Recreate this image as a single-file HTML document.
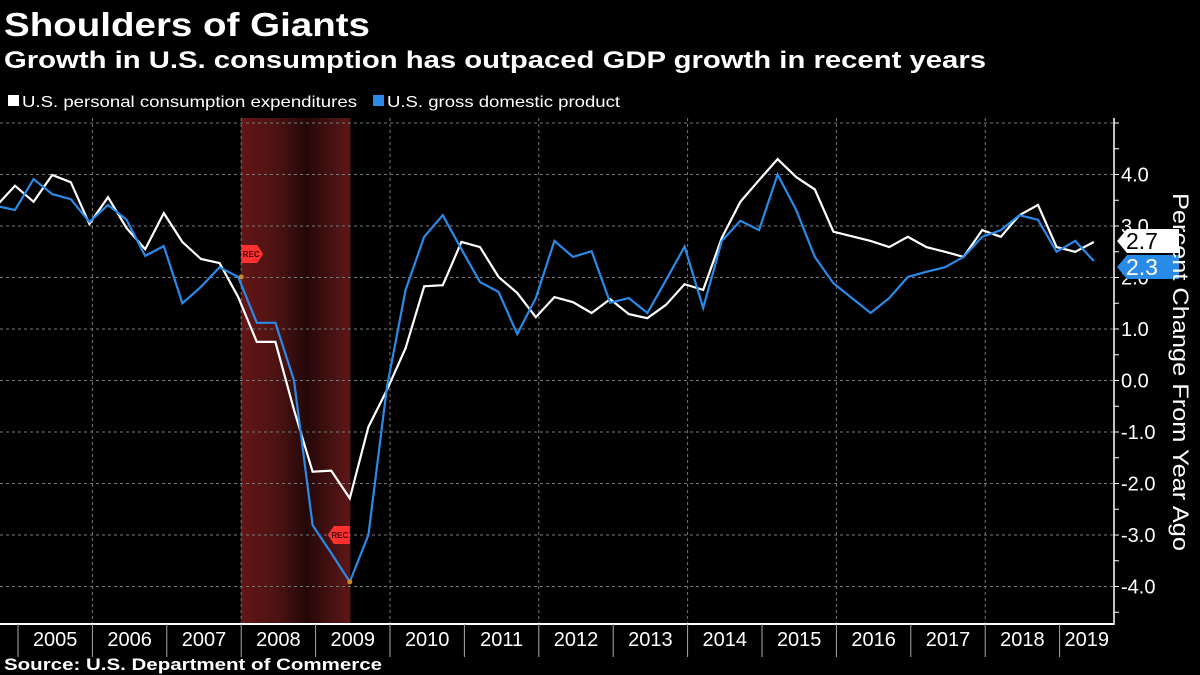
<!DOCTYPE html>
<html><head><meta charset="utf-8">
<style>
html,body{margin:0;padding:0;background:#000;}
svg{display:block;font-family:"Liberation Sans",sans-serif;}
</style></head>
<body>
<svg id="chart" width="1200" height="675" viewBox="0 0 1200 675" xmlns="http://www.w3.org/2000/svg">
<defs>
<linearGradient id="recg" x1="0" x2="1" y1="0" y2="0">
<stop offset="0" stop-color="#641616"/>
<stop offset="0.35" stop-color="#4a1212"/>
<stop offset="0.6" stop-color="#240808"/>
<stop offset="0.85" stop-color="#4a1212"/>
<stop offset="1" stop-color="#5e1616"/>
</linearGradient>
</defs>
<rect x="0" y="0" width="1200" height="675" fill="#000"/>
<text x="4" y="36" fill="#fff" font-size="33" font-weight="bold" textLength="366" lengthAdjust="spacingAndGlyphs">Shoulders of Giants</text>
<text x="4" y="68" fill="#fff" font-size="24" font-weight="bold" textLength="982" lengthAdjust="spacingAndGlyphs">Growth in U.S. consumption has outpaced GDP growth in recent years</text>
<g>
<g>
<rect x="8" y="95" width="11" height="11" fill="#fff"/>
<text x="22" y="107" fill="#fff" font-size="16" textLength="335" lengthAdjust="spacingAndGlyphs">U.S. personal consumption expenditures</text>
</g>
<g>
<rect x="373" y="95" width="11" height="11" fill="#2a8ae8"/>
<text x="387" y="107" fill="#fff" font-size="16" textLength="233" lengthAdjust="spacingAndGlyphs">U.S. gross domestic product</text>
</g>
</g>
<g id="plot"></g>
<text x="4" y="670" fill="#fff" font-size="17" font-weight="bold" textLength="378" lengthAdjust="spacingAndGlyphs">Source: U.S. Department of Commerce</text>
<text transform="translate(1173,372) rotate(90)" text-anchor="middle" fill="#fff" font-size="22" textLength="358" lengthAdjust="spacingAndGlyphs">Percent Change From Year Ago</text>
</svg>
<script>
const pceValues = [3.39,3.78,3.47,3.99,3.85,3.04,3.56,2.96,2.55,3.25,2.69,2.36,2.28,1.62,
0.75,0.75,-0.57,-1.77,-1.75,-2.29,-0.90,-0.18,0.63,1.83,1.85,2.69,2.59,2.01,1.70,
1.23,1.62,1.52,1.31,1.58,1.29,1.21,1.47,1.87,1.76,2.77,3.47,3.89,
4.30,3.95,3.71,2.89,2.80,2.71,2.59,2.79,2.59,2.50,2.40,2.92,2.79,3.21,3.41,2.59,2.50,2.69];
const gdpValues = [3.39,3.31,3.91,3.62,3.52,3.08,3.41,3.12,2.42,2.61,1.50,1.82,2.20,2.01,
1.12,1.12,0.00,-2.81,-3.35,-3.91,-3.00,-0.12,1.76,2.79,3.21,2.55,1.91,1.72,0.90,
1.60,2.71,2.40,2.51,1.51,1.60,1.31,1.95,2.60,1.41,2.71,3.10,2.92,
4.00,3.31,2.40,1.89,1.60,1.31,1.60,2.01,2.11,2.20,2.40,2.79,2.92,3.21,3.12,2.50,2.71,2.32];
const yearLabels = ["2005","2006","2007","2008","2009","2010","2011","2012","2013","2014","2015","2016","2017","2018","2019"];
const yTickValues = [4,3,2,1,0,-1,-2,-3,-4];
const yTickLabels = ["4.0","3.0","2.0","1.0","0.0","-1.0","-2.0","-3.0","-4.0"];
const recessionQuarters = [12, 18];
const lastLabels = ["2.7","2.3"];

const NS="http://www.w3.org/2000/svg";
const plotG=document.getElementById('plot');
const pLeft=0, pRight=1114, pTop=118, pBottom=624;
const yearStart=18, yearW=74.4;
function yScale(v){return 380.5 - v*51.5;}
function xQ(q){return 15 + q*18.6;}
function xYear(i){return yearStart + i*yearW;}
function mk(tag,attrs){const e=document.createElementNS(NS,tag);for(const k in attrs)e.setAttribute(k,attrs[k]);plotG.appendChild(e);return e;}

const band=mk('rect',{x:xYear(3),y:pTop,width:xQ(recessionQuarters[1])+0.5-xYear(3),height:pBottom-pTop,fill:'url(#recg)'});



for(let v=-4;v<=5;v++){
  const g=mk('line',{x1:pLeft,x2:pRight,y1:yScale(v),y2:yScale(v),stroke:'#777','stroke-width':1,'stroke-dasharray':'3,3'});
  
  
}
for(let i=1;i<yearLabels.length;i+=2){
  const g=mk('line',{x1:xYear(i),x2:xYear(i),y1:pTop,y2:pBottom,stroke:'#777','stroke-width':1,'stroke-dasharray':'3,3'});
  
  
}

function series(vals,color,name){
  const pts=vals.map((v,i)=>xQ(i-1).toFixed(1)+','+yScale(v).toFixed(1)).join(' ');
  const p=mk('polyline',{points:pts,fill:'none',stroke:color,'stroke-width':2.2,'stroke-linejoin':'miter'});
  
  
}
series(pceValues,'#ffffff','pce-line');
series(gdpValues,'#2a8ae8','gdp-line');

function rec(q,v,dir,ty){
  const y=yScale(v);
  const x0=dir>0?xYear(3):xQ(q);
  const d=dir>0?`M${x0},${ty-9} h16 l6,9 l-6,9 h-16 z`:`M${x0},${ty-9} h-16 l-6,9 l6,9 h16 z`;
  const p=mk('path',{d:d,fill:'#ff3030'});
  
  
  const t=mk('text',{x:dir>0?x0+10:x0-10,y:ty+3,'text-anchor':'middle','font-size':8,'font-weight':'bold',fill:'#400'});
  t.textContent='REC';
  
  
  const c=mk('circle',{cx:x0,cy:y,r:2.5,fill:'#c98a2a'});
  
  
}
rec(recessionQuarters[0],gdpValues[recessionQuarters[0]+1],1,254);
rec(recessionQuarters[1],gdpValues[recessionQuarters[1]+1],-1,535);

const axX=mk('line',{x1:0,x2:pRight,y1:pBottom,y2:pBottom,stroke:'#fff','stroke-width':2});


const axY=mk('line',{x1:pRight,x2:pRight,y1:pTop,y2:pBottom+1,stroke:'#fff','stroke-width':1.5});


for(let v=-4.5;v<=5;v+=0.5){
  const t=mk('line',{x1:pRight,x2:pRight+5,y1:yScale(v),y2:yScale(v),stroke:'#fff','stroke-width':1});
  
  
}
yTickValues.forEach((v,i)=>{
  const t=mk('text',{x:pRight+7,y:yScale(v)+7,fill:'#fff','font-size':20});
  t.textContent=yTickLabels[i];
  
  
});
for(let i=0;i<yearLabels.length;i++){
  const sx=mk('line',{x1:xYear(i),x2:xYear(i),y1:pBottom,y2:pBottom+33,stroke:'#aaa','stroke-width':1});
  
  
  const end=Math.min(xYear(i+1),pRight);
  const t=mk('text',{x:(xYear(i)+end)/2,y:pBottom+22,fill:'#fff','font-size':20,'text-anchor':'middle'});
  t.textContent=yearLabels[i];
  
  
}

function lastLabel(txt,bg,fg,name,yc){
  const p=mk('path',{d:`M${pRight+3},${yc} l10,-12 h52 v24 h-52 z`,fill:bg});
  
  
  const t=mk('text',{x:pRight+12,y:yc+8,fill:fg,'font-size':23});
  t.textContent=txt;
  
  
}
lastLabel(lastLabels[0],'#fff','#000','pce-last-value',241);
lastLabel(lastLabels[1],'#2a8ae8','#fff','gdp-last-value',267);
</script>
</body></html>
